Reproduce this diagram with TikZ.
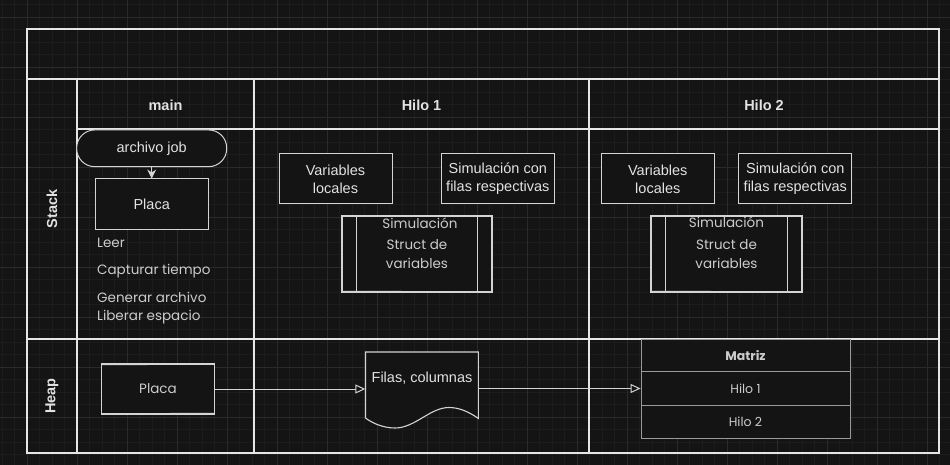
\documentclass[tikz,border=0pt]{standalone}
\usepackage{fontspec}
\setmainfont{Liberation Sans}
\newfontfamily\sketchfont{Poppins}
\usetikzlibrary{arrows.meta}
\definecolor{bg}{HTML}{141414}
\definecolor{gridminor}{HTML}{1C1C1C}
\definecolor{gridmajor}{HTML}{2A2A2A}
\definecolor{lanecol}{HTML}{E6E6E6}
\definecolor{boxcol}{HTML}{D4D4D4}
\definecolor{txt}{HTML}{E2E2E2}
\definecolor{sketchtxt}{HTML}{CCCCCC}
\definecolor{matcol}{HTML}{9A9A9A}
\begin{document}
\begin{tikzpicture}[x=1pt,y=-1pt,
  lane/.style={draw=lanecol, line width=1.3pt},
  hdr/.style={text=txt, inner sep=0pt, font=\bfseries\fontsize{14.5}{17}\selectfont},
  box/.style={draw=boxcol, line width=1pt, fill=bg, text=txt, align=center, inner sep=0pt,
    font=\fontsize{14.5}{18}\selectfont},
  sk/.style={text=sketchtxt, inner sep=0pt, align=center, font=\sketchfont\fontsize{13.5}{18.5}\selectfont},
  skbox/.style={draw=boxcol, line width=1.1pt, fill=bg, inner sep=0pt},
  mat/.style={draw=matcol, line width=0.8pt},
  mtxt/.style={text=sketchtxt, inner sep=0pt, font=\sketchfont\fontsize{12.5}{14}\selectfont},
  conn/.style={draw=boxcol, line width=1pt, -{Triangle[open, length=10pt, width=9pt]}},
  downarrow/.style={draw=boxcol, line width=1pt, -{Stealth[length=9pt, width=9pt]}}
]
\useasboundingbox (0,0) rectangle (950,465);
\fill[bg] (0,0) rectangle (950,465);
% grid
\foreach \i in {0,...,76} \draw[gridminor, line width=0.6pt] ({2+12.5*\i},0) -- ({2+12.5*\i},465);
\foreach \j in {0,...,37} \draw[gridminor, line width=0.6pt] (0,{4.5+12.5*\j}) -- (950,{4.5+12.5*\j});
\foreach \i in {0,...,18} \draw[gridmajor, line width=0.8pt] ({27+50*\i},0) -- ({27+50*\i},465);
\foreach \j in {0,...,8} \draw[gridmajor, line width=0.8pt] (0,{17+50*\j}) -- (950,{17+50*\j});

% swimlane frame
\draw[lane] (27,29) rectangle (939,453);
\draw[lane] (27,79) -- (939,79);
\draw[lane] (77,129) -- (939,129);
\draw[lane] (27,339) -- (939,339);
\draw[lane] (77,79) -- (77,453);
\draw[lane] (254,79) -- (254,453);
\draw[lane] (589,79) -- (589,453);

% headers
\node[hdr] (hmain) at (165.5,105) {main};
\node[hdr] (hhilo1) at (421.5,105) {Hilo 1};
\node[hdr] (hhilo2) at (764,105) {Hilo 2};
\node[hdr, rotate=90] (lstack) at (52,209) {Stack};
\node[hdr, rotate=90] (lheap) at (52,396) {Heap};

% main column, stack
\node[box, rounded corners=18pt, minimum width=150, minimum height=36.7] (job) at (151.7,148.3) {archivo job};
\node[box, minimum width=113, minimum height=50] (placa) at (151.7,204) {Placa};
\draw[downarrow] (job) -- (placa);
\node[sk, anchor=west] (leer) at (97,242.5) {Leer};
\node[sk, anchor=west] (capt) at (97,271.5) {Capturar tiempo};
\node[sk, anchor=west] (gen) at (97,297.5) {Generar archivo};
\node[sk, anchor=west] (lib) at (97,317.5) {Liberar espacio};

% Hilo 1, stack
\node[box, minimum width=113, minimum height=50] (vl1) at (335.5,179) {Variables\\locales};
\node[box, minimum width=113, minimum height=50] (sim1) at (497.8,179) {Simulación con\\filas respectivas};
\node[skbox, sk, minimum width=150, minimum height=76] (st1) at (417,254) {Struct de\\variables};
\draw[draw=boxcol, line width=1pt] ([xshift=15pt]st1.north west) -- ([xshift=15pt]st1.south west);
\draw[draw=boxcol, line width=1pt] ([xshift=-15pt]st1.north east) -- ([xshift=-15pt]st1.south east);
\draw[draw=boxcol, line width=0.5pt] ([shift={(1.5pt,-1pt)}]st1.north west) -- ([shift={(-1pt,-0.5pt)}]st1.north east);
\draw[draw=boxcol, line width=0.5pt] ([shift={(-1.5pt,1pt)}]st1.south east) -- ([shift={(1pt,1.5pt)}]st1.south west);
\node[sk] (st1t) at (420,223.5) {Simulación};

% Hilo 2, stack
\node[box, minimum width=113, minimum height=50] (vl2) at (657.8,179) {Variables\\locales};
\node[box, minimum width=113, minimum height=50] (sim2) at (795.3,179) {Simulación con\\filas respectivas};
\node[skbox, sk, minimum width=151, minimum height=76] (st2) at (726.5,254) {Struct de\\variables};
\draw[draw=boxcol, line width=1pt] ([xshift=15pt]st2.north west) -- ([xshift=15pt]st2.south west);
\draw[draw=boxcol, line width=1pt] ([xshift=-15pt]st2.north east) -- ([xshift=-15pt]st2.south east);
\draw[draw=boxcol, line width=0.5pt] ([shift={(1.5pt,-1pt)}]st2.north west) -- ([shift={(-1pt,-0.5pt)}]st2.north east);
\draw[draw=boxcol, line width=0.5pt] ([shift={(-1.5pt,1pt)}]st2.south east) -- ([shift={(1pt,1.5pt)}]st2.south west);
\node[sk] (st2t) at (726.5,222.5) {Simulación};

% Heap
\node[skbox, sk, minimum width=112.6, minimum height=50] (hplaca) at (158,389) {Placa};
\draw[draw=boxcol, line width=0.5pt] ([shift={(1pt,-1.5pt)}]hplaca.north west) -- ([shift={(-1pt,-1pt)}]hplaca.north east);
\draw[draw=boxcol, line width=0.5pt] ([shift={(-1pt,1.5pt)}]hplaca.south east) -- ([shift={(1pt,1pt)}]hplaca.south west);

\draw[draw=boxcol, line width=1.1pt, fill=bg] (365.5,352) -- (478.4,352) -- (478.4,418.5)
  .. controls (468,411) and (458,407.5) .. (449,407.5)
  .. controls (430,407.5) and (415,428) .. (395,428)
  .. controls (383,428) and (372,423) .. (365.5,418) -- cycle;
\node[inner sep=0pt, minimum width=113, minimum height=66] (filas) at (422,385) {};
\node[text=txt, inner sep=0pt, font=\fontsize{14.5}{18}\selectfont] (filast) at (422,378.5) {Filas, columnas};

% Matrix
\node[mat, fill=bg, minimum width=209, minimum height=99, inner sep=0pt] (matriz) at (745.5,388.5) {};
\draw[mat] ([yshift=-33pt]matriz.north west) -- ([yshift=-33pt]matriz.north east);
\draw[mat] ([yshift=33pt]matriz.south west) -- ([yshift=33pt]matriz.south east);
\node[mtxt, font=\sketchfont\bfseries\fontsize{12.5}{14}\selectfont] (mtitle) at (745.5,355.5) {Matriz};
\node[mtxt] (mh1) at (745.5,388.5) {Hilo 1};
\node[mtxt] (mh2) at (745.5,421.5) {Hilo 2};

% connectors
\draw[conn] (hplaca.east) -- (hplaca.east -| filas.west);
\draw[conn] (filas.east |- matriz.west) -- (matriz.west);
\end{tikzpicture}
\end{document}
